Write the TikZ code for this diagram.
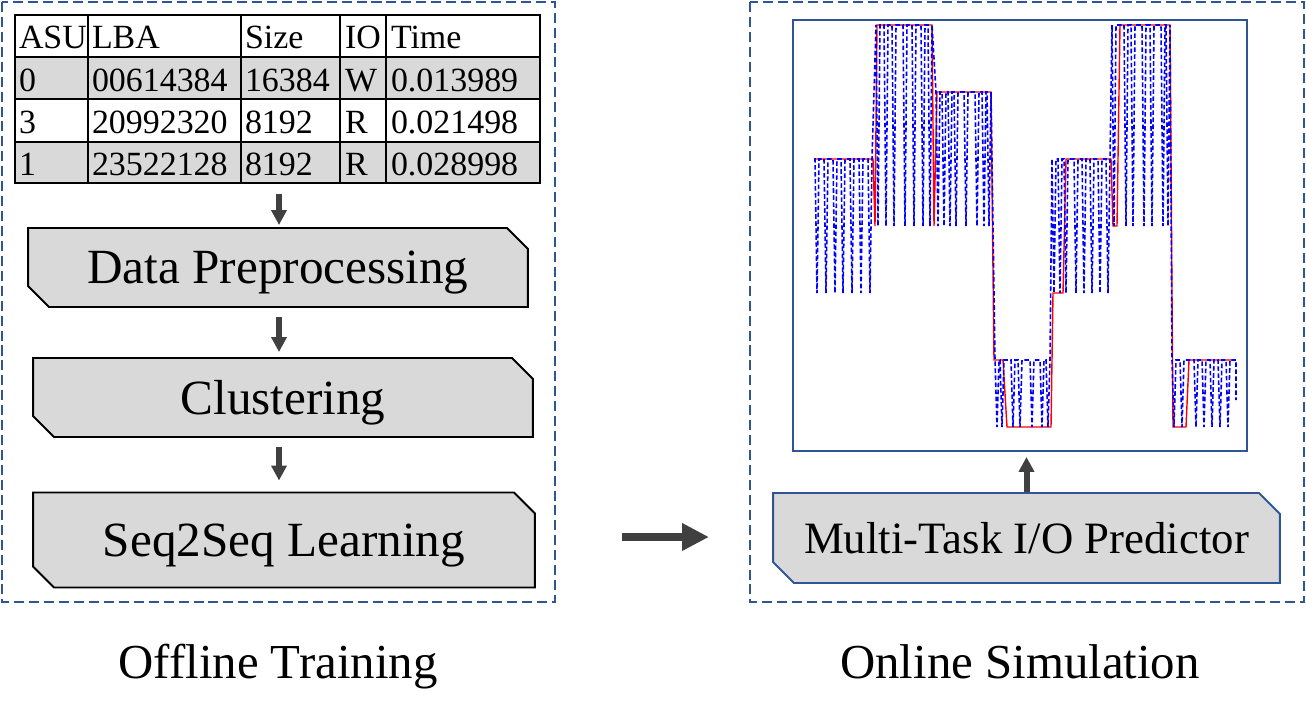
\documentclass[tikz,border=0pt]{standalone}
\usepackage{fontspec}
\setmainfont{Liberation Serif}
\usepackage{tikz}
\tikzset{
  every node/.style = {
    inner sep = 0pt,
    outer sep = 0pt
  }
}
\usetikzlibrary{
arrows.meta,
calc,
shapes.misc
}
\definecolor{frameblue}{RGB}{47,85,151}
\definecolor{boxgray}{RGB}{217,217,217}
\definecolor{arrowgray}{RGB}{64,64,64}

\begin{document}
\begin{tikzpicture}[
        x = 0.02cm,
        y = -0.02cm,
        stage/.style={
          chamfered rectangle,
          chamfered rectangle corners = {north east, south west},
          chamfered rectangle xsep = 0.21cm,
          chamfered rectangle ysep = 0.21cm,
          draw = black,
          line width = 1.1pt,
          fill = boxgray,
          text depth = 0pt,
          font = \fontsize{28}{30}\selectfont,
        },
        cell/.style={
          anchor = base west,
          font = \fontsize{19.3}{20}\selectfont,
        },
        caption/.style={
          anchor = base,
          font = \fontsize{27.8}{30}\selectfont,
        },
        frame/.style={
          draw = frameblue,
          line width = 1.3pt,
          dash pattern = on 5.7pt off 2.8pt,
        },
        step arrow/.style={
          draw = arrowgray,
          line width = 0.12cm,
          -{Triangle[length=0.3cm, width=0.3cm]},
        },
        go arrow/.style={
          draw = arrowgray,
          line width = 0.16cm,
          -{Triangle[length=0.54cm, width=0.52cm]},
        },
        redstep/.style={
          draw = red,
          line width = 0.8pt,
        },
        bluedash/.style={
          draw = blue,
          line width = 0.9pt,
          dash pattern = on 2.6pt off 1.4pt,
        },
        ]
        \useasboundingbox (0,0) rectangle (1306,721);

        % frames
        \draw [frame] (2,2) rectangle (555,602);
        \draw [frame] (750,2) rectangle (1304,602);

        % trace table
        \fill [boxgray] (15,57) rectangle (540,99);
        \fill [boxgray] (15,142) rectangle (540,183);
        \foreach \y in {57,99,142}
          \draw [line width=0.6pt] (15,\y) -- (540,\y);
        \foreach \x in {88,241,340,386}
          \draw [line width=0.6pt] (\x,15) -- (\x,183);
        \draw [line width=1.2pt] (15,15) rectangle (540,183);
        \foreach \r/\yb/\a/\b/\c/\d/\e in {
            0/48/ASU/LBA/Size/IO/Time,
            1/91/0/00614384/16384/W/0.013989,
            2/133/3/20992320/8192/R/0.021498,
            3/175/1/23522128/8192/R/0.028998}{
          \node [cell] (cell-\r-1) at (19,\yb) {\a};
          \node [cell] (cell-\r-2) at (92,\yb) {\b};
          \node [cell] (cell-\r-3) at (245,\yb) {\c};
          \node [cell] (cell-\r-4) at (345,\yb) {\d};
          \node [cell] (cell-\r-5) at (391,\yb) {\e};
        }
        \coordinate (table-s) at (279,183);

        % offline stages
        \node [stage, minimum width=10cm, minimum height=1.58cm]
          (prep) at (278,267.5) {Data Preprocessing};
        \node [stage, minimum width=10cm, minimum height=1.58cm]
          (clus) at (283,397.5) {Clustering};
        \node [stage, minimum width=10.04cm, minimum height=1.9cm]
          (seq) at (284,540) {Seq2Seq Learning};

        \draw [step arrow, shorten <=0.22cm, shorten >=0.06cm]
          (table-s) -- (table-s |- prep.north);
        \draw [step arrow, shorten <=0.2cm, shorten >=0.12cm]
          (table-s |- prep.south) -- (table-s |- clus.north);
        \draw [step arrow, shorten <=0.2cm, shorten >=0.24cm]
          (table-s |- clus.south) -- (table-s |- seq.north);

        % online side
        \node [draw=frameblue, line width=1.3pt, minimum width=9.08cm,
          minimum height=8.62cm] (chart) at (1020,235.5) {};
        \node [stage, draw=frameblue, minimum width=10.14cm, minimum height=1.8cm,
          font=\fontsize{25.5}{28}\selectfont]
          (pred) at (1026.5,538) {Multi-Task I/O Predictor};
        \draw [step arrow, shorten <=0.02cm, shorten >=0.12cm]
          (pred.north) -- (pred.north |- chart.south);

        % real and predicted series
        \draw [redstep] (814,159) -- (873,159) -- (875,226) -- (877,25)
          -- (932,25) -- (934,226) -- (937,92) -- (991,92) -- (994,360)
          -- (1003,360) -- (1007,427) -- (1051,427) -- (1053,293)
          -- (1063,293) -- (1066,159) -- (1111,159) -- (1113,226)
          -- (1117,226) -- (1120,25) -- (1170,25) -- (1173,427)
          -- (1186,427) -- (1189,360) -- (1235,360);
        \draw [bluedash] (814,159)
          \foreach \x in {815,824,833,841,850,859,868}
            { -- (\x,159) -- (\x+2,293) -- (\x+4,159) }
          \foreach \x in {876,884,892,903,912,921,928}
            { -- (\x,25) -- (\x+2,226) -- (\x+4,25) }
          \foreach \x in {936,942,948,954,964,975,982,987}
            { -- (\x,92) -- (\x+2,226) -- (\x+4,92) }
          \foreach \x in {995,1000,1011,1018,1030,1040,1046}
            { -- (\x,360) -- (\x+2,427) -- (\x+4,360) }
          \foreach \x in {1052,1058,1064,1074,1082,1090,1098,1106}
            { -- (\x,159) -- (\x+2,293) -- (\x+4,159) }
          \foreach \x in {1112,1124,1131,1142,1150,1161,1166}
            { -- (\x,25) -- (\x+2,226) -- (\x+4,25) }
          \foreach \x in {1172,1180,1194,1202,1210,1218,1226}
            { -- (\x,360) -- (\x+2,427) -- (\x+4,360) }
          -- (1236,360) -- (1236,400);

        \coordinate (go-a) at (622,537);
        \coordinate (go-b) at (709,537);
        \draw [go arrow] (go-a) -- (go-b);

        \node [caption] (offline) at (278,678) {Offline Training};
        \node [caption] (online) at (1020,678) {Online Simulation};
\end{tikzpicture}
\end{document}
